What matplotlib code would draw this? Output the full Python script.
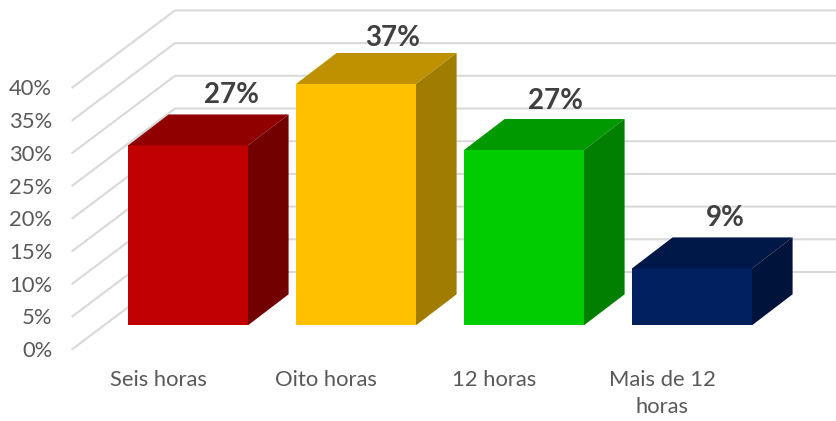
import matplotlib
matplotlib.use("Agg")
import matplotlib.pyplot as plt

categories = ["Seis horas", "Oito horas", "12 horas", "Mais de 12\nhoras"]
values = [27.5, 36.9, 26.8, 8.7]
labels = ["27%", "37%", "27%", "9%"]
yticks = [0, 5, 10, 15, 20, 25, 30, 35, 40]
front = ["#C00000", "#FFC000", "#00CC00", "#002060"]
top = ["#900000", "#BF9000", "#009900", "#001848"]
side = ["#730000", "#A07D00", "#007F00", "#00133A"]

W, H = 837, 421
PX_X = 168.0        # pixels per category
PX_Y = 6.54         # pixels per percent
X0 = 188.0          # pixel of first bar centre
Y0 = 349.0          # pixel of 0 % at the front
LEFT = 55.0

plt.rcParams["font.family"] = ["Lato", "DejaVu Sans"]
fig = plt.figure(figsize=(W / 100, H / 100), dpi=100, facecolor="white")
ax = fig.add_axes([LEFT / W, (H - Y0) / H, 1 - LEFT / W, Y0 / H])
ax.set_xlim((LEFT - X0) / PX_X, (W - X0) / PX_X)
ax.set_ylim(0, Y0 / PX_Y)
for s in ax.spines.values():
    s.set_visible(False)

# wall gridlines
gx0 = (72.5 - X0) / PX_X
wall_dx, wall_dy = 102.5 / PX_X, 77 / PX_Y
xmax = ax.get_xlim()[1]
for t in yticks:
    ax.plot([gx0, gx0 + wall_dx, xmax], [t, t + wall_dy, t + wall_dy],
            color="#D9D9D9", lw=1.5, zorder=1, clip_on=False, solid_joinstyle="miter")

# bars
width = 120 / PX_X
base = (Y0 - 325.3) / PX_Y
dx, dy = 40.6 / PX_X, 31 / PX_Y
xs = list(range(len(categories)))
label_shift = [3, -4, -9, -7]
label_gap = [19, 15, 18, 19]
ax.bar(xs, values, width=width, bottom=base, color=front, zorder=3)
for x, v, c_t, c_s, lab, sh, gap in zip(xs, values, top, side, labels, label_shift, label_gap):
    l, r, t = x - width / 2, x + width / 2, base + v
    ax.fill([l, r, r + dx, l + dx], [t, t, t + dy, t + dy], color=c_t, lw=0, zorder=3)
    ax.fill([r, r + dx, r + dx, r], [base, base + dy, t + dy, t], color=c_s, lw=0, zorder=3)
    ax.annotate(lab, (x + dx, t + dy), xytext=(sh * 0.72, gap * 0.72), textcoords="offset points",
                ha="center", va="center", fontsize=20, fontweight="bold", color="#404040", zorder=5)

# axes text
ax.set_yticks(yticks, [f"{t}%" for t in yticks])
ax.tick_params(axis="y", length=0, pad=2, labelsize=15.8, labelcolor="#595959")
ax.set_xticks([x - 30 / PX_X for x in xs], categories)
ax.tick_params(axis="x", length=0, pad=15, labelsize=15.8, labelcolor="#595959")
for lab in ax.get_xticklabels():
    lab.set_linespacing(1.45)

fig.savefig("out.png", dpi=100)
